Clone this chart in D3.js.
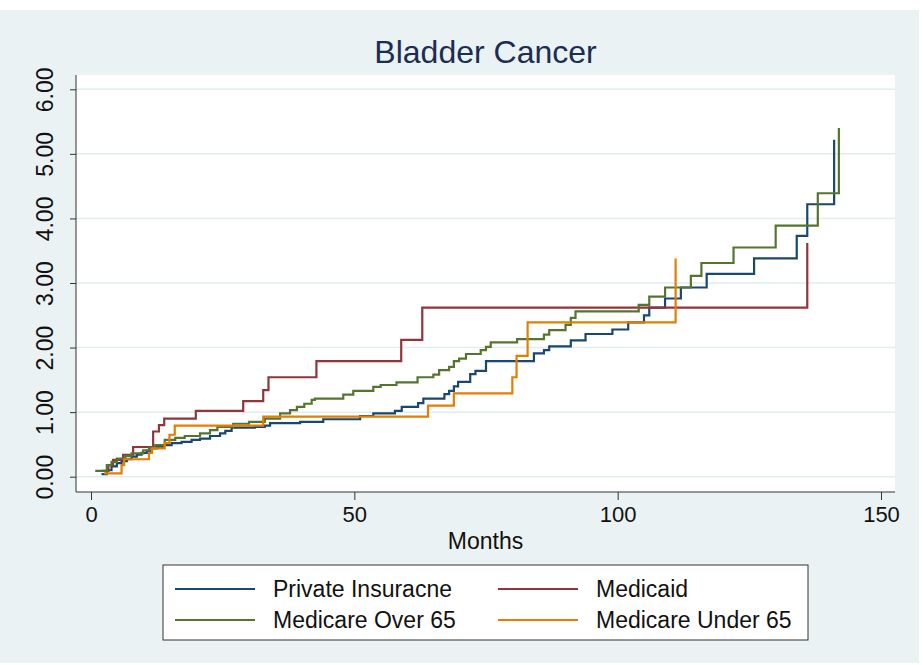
<!DOCTYPE html>
<html lang="en">
<head>
  <meta charset="UTF-8">
  <title>Bladder Cancer</title>
  <script src="https://d3js.org/d3.v7.min.js"></script>
  <style>
    body {
      margin: 0;
      overflow: hidden;
      background: white;
    }
    text {
      font-family: "Liberation Sans", Arial, sans-serif;
    }
  </style>
</head>
<body>
  <script>
    const width = 923;
    const height = 665;

    // cumulative hazard steps: [month, value]
    const privateIns = [
      [2, 0.04], [3, 0.10], [3.9, 0.16], [4.9, 0.21], [5.8, 0.24], [6.8, 0.27], [7.7, 0.31],
      [8.7, 0.34], [9.6, 0.37], [10.6, 0.40], [11.5, 0.44], [12.5, 0.46], [13.7, 0.49],
      [15.3, 0.52], [17.2, 0.54], [19.1, 0.57], [20.7, 0.59], [22.6, 0.63], [24.5, 0.67],
      [25.5, 0.71], [26.7, 0.76], [31.1, 0.77], [33, 0.79], [34, 0.83], [39.7, 0.85],
      [44.1, 0.89], [51.1, 0.94], [53.6, 0.98], [57.7, 1.02], [59, 1.08], [62.1, 1.14],
      [63.1, 1.21], [67.1, 1.28], [68, 1.33], [68.9, 1.40], [69.7, 1.47], [72, 1.59],
      [73, 1.64], [75, 1.79], [84.1, 1.91], [86, 1.96], [87, 2.02], [91.1, 2.11],
      [93.9, 2.21], [99, 2.28], [102, 2.39], [105, 2.50], [106, 2.62], [109, 2.76],
      [112, 2.93], [116.9, 3.14], [125.9, 3.38], [134, 3.73], [136, 4.22], [141.1, 5.22]
    ];

    const medicaid = [
      [2, 0.09], [3.3, 0.18], [4.2, 0.26], [6.1, 0.34], [8, 0.46], [11.8, 0.70],
      [12.9, 0.80], [13.9, 0.90], [19.9, 1.02], [28.9, 1.17], [32.7, 1.34], [33.7, 1.54],
      [42.8, 1.79], [58.9, 2.12], [62.9, 2.62], [136, 3.62]
    ];

    const medicareOver = [
      [0.8, 0.09], [3, 0.18], [3.9, 0.23], [4.9, 0.28], [6.5, 0.32], [7.7, 0.36],
      [9.9, 0.41], [11, 0.45], [12.2, 0.49], [14, 0.57], [16, 0.60], [17.8, 0.63],
      [20.7, 0.67], [22.6, 0.72], [24, 0.77], [27, 0.82], [30, 0.85], [33, 0.90],
      [35.9, 0.98], [37.8, 1.03], [39.1, 1.08], [40.5, 1.13], [41.9, 1.19], [42.5, 1.21],
      [47.9, 1.27], [49.8, 1.33], [53.6, 1.39], [55, 1.42], [58, 1.46], [62, 1.54],
      [65, 1.58], [66.1, 1.65], [68, 1.70], [68.9, 1.79], [69.9, 1.83], [71.2, 1.90],
      [74, 1.96], [75, 2.01], [75.9, 2.08], [80.9, 2.13], [86, 2.20], [87, 2.27],
      [90.1, 2.35], [91.1, 2.46], [92, 2.56], [104, 2.66], [106, 2.79], [109, 2.93],
      [113.9, 3.11], [115.9, 3.31], [122, 3.55], [130, 3.89], [138, 4.39], [142, 5.40]
    ];

    const medicareUnder = [
      [2.5, 0.05], [5.8, 0.18], [6.3, 0.27], [11, 0.37], [11.6, 0.44], [14, 0.52],
      [14.9, 0.65], [15.9, 0.79], [32.7, 0.93], [64, 1.10], [68.9, 1.29], [80, 1.54],
      [80.8, 1.87], [82.9, 2.39], [111, 3.38]
    ];

    const seriesNames = ["Private Insuracne", "Medicaid", "Medicare Over 65", "Medicare Under 65"];
    const seriesColors = ["#1a476f", "#90353b", "#55752f", "#e37e00"];
    const seriesData = [privateIns, medicaid, medicareOver, medicareUnder];

    const xTicks = [0, 50, 100, 150];
    const yTicks = [0, 1, 2, 3, 4, 5, 6];

    // plot region
    const plot = { left: 76, right: 895, top: 75, bottom: 492 };

    const svg = d3.select("body")
      .append("svg")
      .attr("width", width)
      .attr("height", height);

    svg.append("rect")
      .attr("x", 0).attr("y", 10)
      .attr("width", width - 4).attr("height", height - 12)
      .attr("fill", "#eaf2f3");

    svg.append("rect")
      .attr("x", plot.left).attr("y", plot.top)
      .attr("width", plot.right - plot.left).attr("height", plot.bottom - plot.top)
      .attr("fill", "white");

    const x = d3.scaleLinear().domain([0, 150]).range([91, 881]);
    const y = d3.scaleLinear().domain([0, 6]).range([476.7, 89.3]);

    // grid
    svg.append("g")
      .selectAll("line")
      .data(yTicks)
      .enter()
      .append("line")
      .attr("x1", plot.left)
      .attr("x2", plot.right)
      .attr("y1", d => y(d))
      .attr("y2", d => y(d))
      .attr("stroke", "#e2edf0")
      .attr("stroke-width", 1.5);

    // axes
    const yAxis = svg.append("g")
      .attr("transform", `translate(${plot.left},0)`)
      .call(d3.axisLeft(y).tickValues(yTicks).tickFormat(d3.format(".2f")).tickSize(6).tickPadding(0));
    yAxis.select(".domain").remove();
    yAxis.selectAll(".tick line").attr("stroke", "#333");
    yAxis.selectAll(".tick text")
      .attr("font-size", 23)
      .attr("fill", "#111")
      .attr("text-anchor", "middle")
      .attr("x", 0)
      .attr("dy", 0)
      .attr("transform", "translate(-29,0) rotate(-90)")
      .attr("y", 0)
      .attr("dominant-baseline", "middle");

    const xAxis = svg.append("g")
      .attr("transform", `translate(0,${plot.bottom})`)
      .call(d3.axisBottom(x).tickValues(xTicks).tickSize(8).tickPadding(6));
    xAxis.select(".domain").remove();
    xAxis.selectAll(".tick line").attr("stroke", "#333");
    xAxis.selectAll(".tick text")
      .attr("font-size", 22)
      .attr("fill", "#111");

    svg.append("line")
      .attr("x1", plot.left).attr("x2", plot.left)
      .attr("y1", plot.top).attr("y2", plot.bottom)
      .attr("stroke", "#333");
    svg.append("line")
      .attr("x1", plot.left).attr("x2", plot.right)
      .attr("y1", plot.bottom).attr("y2", plot.bottom)
      .attr("stroke", "#333");

    // lines
    const line = d3.line()
      .x(d => x(d[0]))
      .y(d => y(d[1]))
      .curve(d3.curveStepAfter);

    svg.append("g")
      .selectAll("path")
      .data(seriesData)
      .enter()
      .append("path")
      .attr("d", d => line(d))
      .attr("fill", "none")
      .attr("stroke", (d, i) => seriesColors[i])
      .attr("stroke-width", 2.2);

    // titles
    svg.append("text")
      .attr("x", (plot.left + plot.right) / 2)
      .attr("y", 63)
      .attr("text-anchor", "middle")
      .attr("font-size", 32)
      .attr("fill", "#1c2d54")
      .text("Bladder Cancer");

    svg.append("text")
      .attr("x", (plot.left + plot.right) / 2)
      .attr("y", 549)
      .attr("text-anchor", "middle")
      .attr("font-size", 23)
      .attr("fill", "#111")
      .text("Months");

    // legend
    const legend = svg.append("g");
    legend.append("rect")
      .attr("x", 163).attr("y", 565)
      .attr("width", 645).attr("height", 75)
      .attr("fill", "white")
      .attr("stroke", "#333");

    const legendItems = legend.selectAll("g.item")
      .data(seriesNames)
      .enter()
      .append("g")
      .attr("class", "item")
      .attr("transform", (d, i) => `translate(${i % 2 === 0 ? 175 : 498},${i < 2 ? 589 : 620})`);

    legendItems.append("line")
      .attr("x1", 0).attr("x2", 80)
      .attr("stroke", (d, i) => seriesColors[i])
      .attr("stroke-width", 2.2);

    legendItems.append("text")
      .attr("x", 98)
      .attr("dy", "0.35em")
      .attr("font-size", 23)
      .attr("fill", "#111")
      .text(d => d);
  </script>
</body>
</html>
